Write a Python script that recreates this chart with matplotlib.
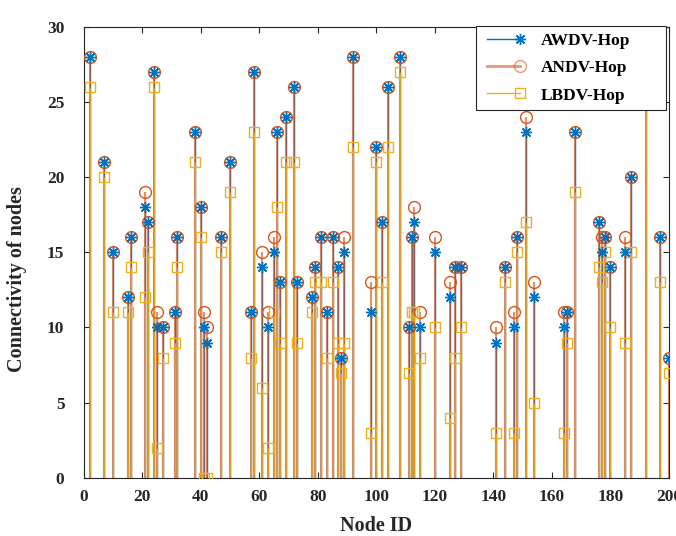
import numpy as np
import matplotlib
matplotlib.use('Agg')
import matplotlib.pyplot as plt
from matplotlib.lines import Line2D
from matplotlib.legend_handler import HandlerLine2D

# ── data ─────────────────────────────────────────────────────────────────────
node_id = [2, 7, 10, 15, 16, 21, 22, 24, 25, 27, 31, 32, 38, 40, 41, 42, 47,
           50, 57, 58, 61, 63, 65, 66, 67, 69, 72, 73, 78, 79, 81, 83, 85, 87,
           88, 89, 92, 98, 100, 102, 104, 108, 111, 112, 113, 115, 120, 125,
           127, 129, 141, 144, 147, 148, 151, 154, 164, 165, 168, 176, 177,
           178, 180, 185, 187, 192, 197, 200]
awdv = [28, 21, 15, 12, 16, 18, 17, 27, 10, 10, 11, 16, 23, 18, 10, 9, 16,
        21, 11, 27, 14, 10, 15, 23, 13, 24, 26, 13, 12, 14, 16, 11, 16, 14,
        8, 15, 28, 11, 22, 17, 26, 28, 10, 16, 17, 10, 15, 12,
        14, 14, 9, 14, 10, 16, 23, 12, 10, 11, 23, 17, 15,
        16, 14, 15, 20, 28, 16, 8]
andv = [28, 21, 15, 12, 16, 19, 17, 27, 11, 10, 11, 16, 23, 18, 11, 10, 16,
        21, 11, 27, 15, 11, 16, 23, 13, 24, 26, 13, 12, 14, 16, 11, 16, 14,
        8, 16, 28, 13, 22, 17, 26, 28, 10, 16, 18, 11, 16, 13,
        14, 14, 10, 14, 11, 16, 24, 13, 11, 11, 23, 17, 16,
        16, 14, 16, 20, 28, 16, 8]
lbdv = [26, 20, 11, 11, 14, 12, 15, 26, 2, 8, 9, 14, 21, 16, 0, 0, 15,
        19, 8, 23, 6, 2, 11, 18, 9, 21, 21, 9, 11, 13, 13, 8, 13, 9,
        7, 9, 22, 3, 21, 13, 22, 27, 7, 11, 11, 8, 10, 4,
        8, 10, 3, 13, 3, 15, 17, 5, 3, 9, 19, 14, 13,
        15, 10, 9, 15, 26, 13, 7]

BLUE = '#0072BD'
RED = '#D95319'
YEL = '#EDB120'
DARK = '#262626'

plt.rcParams['font.family'] = ['Liberation Serif', 'DejaVu Serif']
plt.rcParams['font.weight'] = 'bold'


class EndMarkerHandler(HandlerLine2D):
    # MATLAB-style stem legend entry: marker only at the right end of the line
    def create_artists(self, legend, orig_handle, xdescent, ydescent,
                       width, height, fontsize, trans):
        arts = super().create_artists(legend, orig_handle, xdescent, ydescent,
                                      width, height, fontsize, trans)
        for a in arts:
            if len(a.get_xdata()) > 1:
                a.set_markevery([len(a.get_xdata()) - 1])
        return arts


fig = plt.figure(figsize=(6.76, 5.36), dpi=100)
ax = fig.add_axes([0.124, 0.109, 0.8656, 0.840])

# AWDV
ml, sl, bl = ax.stem(node_id, awdv)
plt.setp(sl, color=BLUE, linewidth=1.0, zorder=2)
plt.setp(ml, marker=(8, 2, 0), color=BLUE, markersize=8, markeredgewidth=1.0,
         zorder=5, linestyle='none')
bl.set_visible(False)

# ANDV
ml2, sl2, bl2 = ax.stem(node_id, andv)
plt.setp(sl2, color=RED, linewidth=1.5, alpha=0.65, zorder=2.1)
plt.setp(ml2, marker='o', markerfacecolor='none', markeredgecolor=RED,
         markersize=8.5, markeredgewidth=1.0, zorder=4, linestyle='none')
bl2.set_visible(False)

# LBDV
ml3, sl3, bl3 = ax.stem(node_id, lbdv)
plt.setp(sl3, color=YEL, linewidth=1.0, alpha=0.8, zorder=2.2)
plt.setp(ml3, marker='s', markerfacecolor='none', markeredgecolor=YEL,
         markersize=7, markeredgewidth=1.0, zorder=4.5, linestyle='none')
bl3.set_visible(False)

ax.set_xlim(0, 200)
ax.set_ylim(0, 30)
ax.set_xticks(np.arange(0, 201, 20))
ax.set_yticks(np.arange(0, 31, 5))
ax.tick_params(direction='in', top=True, right=True, length=4, width=0.8,
               color=DARK, labelcolor=DARK, labelsize=12.5)
ax.tick_params(axis='y', pad=14)
ax.tick_params(axis='x', pad=8)
for sp in ax.spines.values():
    sp.set_color(DARK)
    sp.set_linewidth(0.8)

ax.set_xlabel('Node ID', fontsize=14.5, fontweight='bold', color=DARK, labelpad=8)
ax.set_ylabel('Connectivity of nodes', fontsize=14.5, fontweight='bold', color=DARK)
ax.yaxis.set_label_coords(-0.097, 0.44)

# legend
h1 = Line2D([0, 1], [0, 0], color=BLUE, lw=1.0, marker=(8, 2, 0), ms=8)
h2 = Line2D([0, 1], [0, 0], color=RED, lw=2.0, alpha=0.6, marker='o', ms=8.5,
            markerfacecolor='none', markeredgecolor=RED)
h3 = Line2D([0, 1], [0, 0], color=YEL, lw=1.0, marker='s', ms=7,
            markerfacecolor='none', markeredgecolor=YEL)
leg = ax.legend([h1, h2, h3], ['AWDV-Hop', 'ANDV-Hop', 'LBDV-Hop'],
                loc='upper left', bbox_to_anchor=(0.670, 0.81, 0.325, 0.192),
                mode='expand', borderaxespad=0, fancybox=False, framealpha=1,
                numpoints=2, handlelength=2.5, fontsize=12.5, labelspacing=0.65,
                borderpad=0.35, handletextpad=0.9,
                handler_map={Line2D: EndMarkerHandler()})
leg.get_frame().set_edgecolor(DARK)
leg.get_frame().set_linewidth(0.8)
leg.set_zorder(10)

plt.savefig('out.png', dpi=100)
plt.close()
